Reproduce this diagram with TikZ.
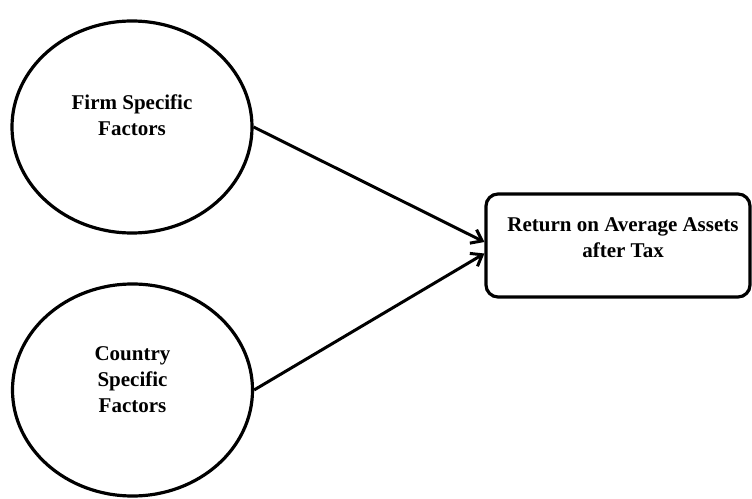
\documentclass[tikz,border=0pt]{standalone}
\usepackage{fontspec}
\setmainfont{Liberation Serif}
\usetikzlibrary{arrows.meta,shapes.geometric}

\begin{document}
\begin{tikzpicture}[
  x=1pt,y=1pt,
  factor/.style={draw,ellipse,line width=3.2pt,minimum width=240pt,minimum height=212pt,inner sep=0pt},
  box/.style={draw,rounded corners=12pt,line width=3.2pt,minimum width=264pt,minimum height=103pt,inner sep=0pt},
  lbl/.style={align=center,font=\bfseries\fontsize{21}{26}\selectfont},
  arr/.style={-{Straight Barb[length=10pt,width=15pt]},line width=3pt}
]
\useasboundingbox (0,0) rectangle (752,498);
\node[factor] (firm) at (132,371) {};
\node[factor] (country) at (132.5,108) {};
\node[box] (ret) at (618,252.5) {};
\node[lbl] (firmtxt) at (132,383) {Firm Specific\\Factors};
\node[lbl] (countrytxt) at (132.5,118) {Country\\Specific\\Factors};
\node[lbl] (rettxt) at (623,260.5) {Return on Average Assets\\after Tax};
\draw[arr] (firm.east) -- ([yshift=3.5pt]ret.west);
\draw[arr] (country.east) -- ([yshift=-8pt]ret.west);
\end{tikzpicture}
\end{document}
